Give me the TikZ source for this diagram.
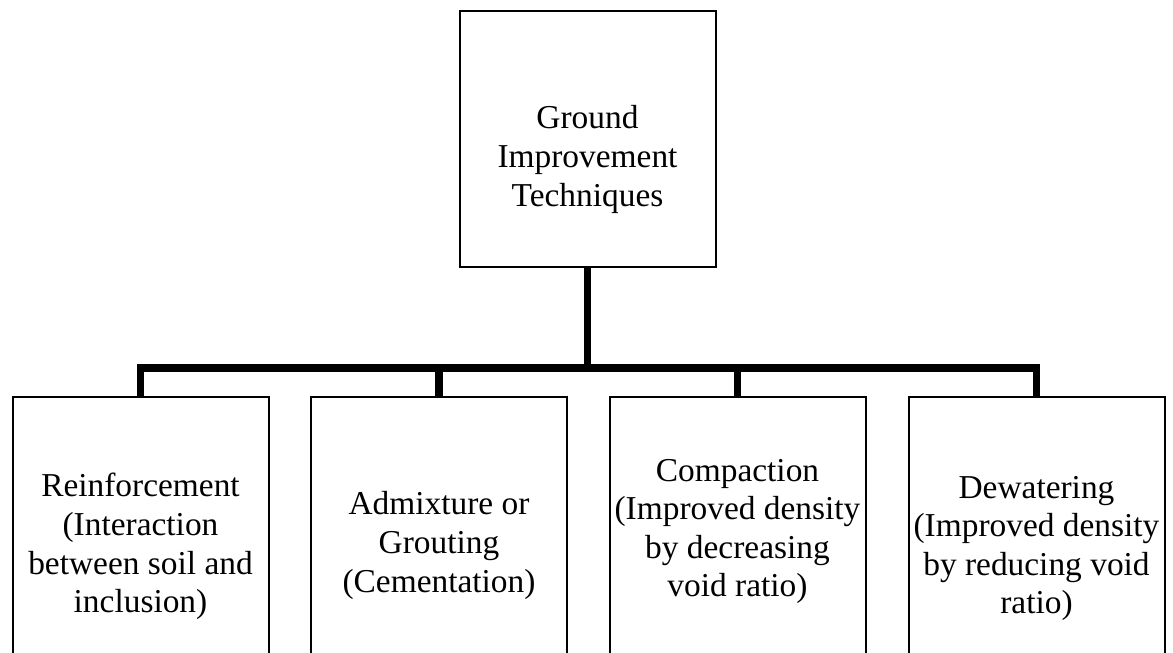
\documentclass[tikz,border=0pt]{standalone}
\usepackage{fontspec}
\setmainfont{Liberation Serif}
\usetikzlibrary{positioning}
\begin{document}
\begin{tikzpicture}[x=0.5pt,y=-0.5pt,
  box/.style={draw, line width=1pt, minimum width=128pt, inner sep=0pt},
  txt/.style={font=\fontsize{16.7}{19.3}\selectfont, align=center, inner sep=0pt},
  link/.style={line width=3.6pt}]
  \useasboundingbox (0,0) rectangle (1173,653);
  % main box
  \node[box, minimum height=128pt] (top) at (587.5,138.5) {};
  \node[txt] (toptxt) at (587.5,159.5) {Ground\\Improvement\\Techniques};
  % branch boxes
  \foreach \i/\x/\y/\t in {1/140.5/546.5/{Reinforcement\\(Interaction\\between soil and\\inclusion)},
                          2/439/545.5/{Admixture or\\Grouting\\(Cementation)},
                          3/737.5/531.5/{Compaction\\(Improved density\\by decreasing\\void ratio)},
                          4/1036.5/548.5/{Dewatering\\(Improved density\\by reducing void\\ratio)}}{
    \node[box, minimum height=151.5pt] (b\i) at (\x,548.5) {};
    \node[txt] (t\i) at (\x,\y) {\t};
  }
  % connectors
  \coordinate (bus) at (587.5,368);
  \draw[link] (top.south) -- (bus);
  \foreach \i in {1,...,4}
    \draw[link] (bus) -| (b\i.north);
\end{tikzpicture}
\end{document}
